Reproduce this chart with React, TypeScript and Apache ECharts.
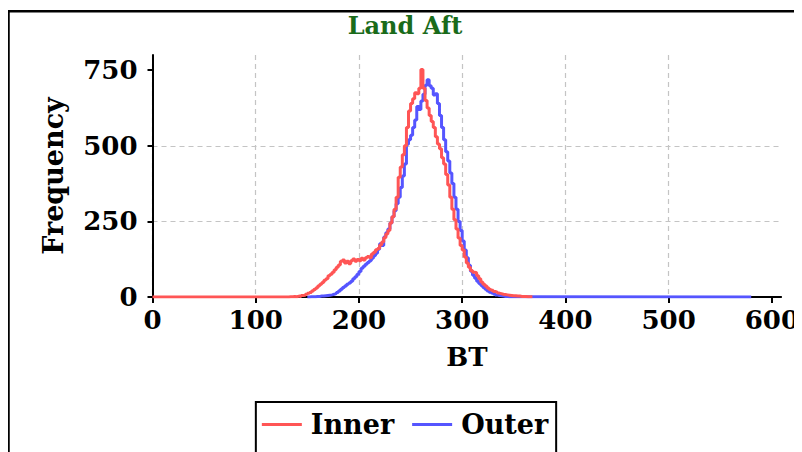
import React, { useEffect, useRef } from "react";
import * as echarts from "echarts";

const binWidth = 2;
const innerStart = 130;
const innerCounts = [
  0, 1, 1, 2, 1, 3, 2, 5, 6, 9,
  12, 15, 20, 25, 30, 36, 42, 48, 55, 60,
  70, 75, 82, 90, 98, 106, 118, 122, 112, 118,
  110, 120, 126, 118, 124, 120, 128, 122, 130, 134,
  130, 142, 148, 156, 160, 172, 182, 196, 208, 220,
  245, 265, 290, 330, 396, 430, 470, 500, 560, 615,
  640, 655, 675, 672, 690, 752, 690, 650, 625, 600,
  580, 560, 530, 506, 490, 460, 440, 405, 370, 330,
  290, 255, 225, 195, 170, 155, 132, 112, 98, 88,
  82, 80, 70, 60, 50, 42, 36, 30, 25, 22,
  18, 16, 13, 11, 9, 8, 7, 6, 5, 4,
  4, 3, 3, 2, 2, 2, 1, 1, 1, 0,
];
const outerStart = 150;
const outerCounts = [
  0, 1, 1, 1, 2, 2, 3, 3, 4, 5,
  6, 7, 9, 11, 15, 20, 26, 31, 36, 42,
  46, 52, 60, 67, 75, 84, 95, 102, 108, 114,
  120, 128, 136, 145, 158, 176, 170, 198, 212, 225,
  245, 265, 285, 308, 330, 362, 400, 440, 505, 520,
  535, 560, 585, 630, 620, 648, 670, 700, 718, 698,
  690, 668, 672, 640, 600, 560, 520, 480, 450, 410,
  375, 330, 290, 250, 220, 185, 155, 130, 105, 85,
  72, 62, 52, 45, 38, 31, 26, 20, 16, 13,
  10, 7, 5, 4, 3, 2, 2, 1, 1, 0,
];
// BT range where each series' zero tail is drawn
const innerFirstBT = 0;
const outerLastBT = 580;

const xTicks = [0, 100, 200, 300, 400, 500, 600];
const yTicks = [0, 250, 500, 750];
const xMax = 609;
const yMax = 800;

const seriesNames = ["Inner", "Outer"];
const titleText = "Land Aft";
const xName = "BT";
const yName = "Frequency";

const FONT = "DejaVu Serif";

function toPairs(start: number, counts: number[]): number[][] {
  return counts.map((c, i) => [start + i * binWidth, c]);
}

export default function App() {
  const ref = useRef<HTMLDivElement>(null);
  useEffect(() => {
    if (!ref.current) return;
    const chart = echarts.init(ref.current, undefined, { renderer: "svg" });
    const innerData = [[innerFirstBT, 0], ...toPairs(innerStart, innerCounts)];
    const outerData = [...toPairs(outerStart, outerCounts), [outerLastBT, 0]];
    const labelStyle = {
      fontFamily: FONT,
      fontWeight: "bold" as const,
      fontSize: 26,
      color: "#000",
    };
    chart.setOption({
      animation: false,
      backgroundColor: "#fff",
      title: {
        text: titleText,
        left: "center",
        top: 5,
        padding: 0,
        textStyle: {
          fontFamily: FONT,
          fontWeight: "bold",
          fontSize: 24,
          color: "#1a6b1a",
        },
      },
      graphic: [
        {
          type: "polyline",
          shape: { points: [[0.5, 470], [0.5, 3.3], [820, 3.3]] },
          style: { stroke: "#000", lineWidth: 2.5, fill: "none" },
          silent: true,
        },
      ],
      grid: { left: 144.5, right: 16, top: 47, bottom: 155 },
      legend: {
        data: seriesNames,
        left: "center",
        top: 394,
        icon: "rect",
        itemWidth: 40,
        itemHeight: 3,
        itemGap: 18,
        padding: [9, 8, 40, 6],
        borderColor: "#000",
        borderWidth: 2,
        textStyle: {
          fontFamily: FONT,
          fontWeight: "bold",
          fontSize: 27,
          color: "#000",
          padding: [0, 0, 0, 4],
        },
      },
      xAxis: {
        type: "value",
        min: 0,
        max: xMax,
        interval: 100,
        name: xName,
        nameLocation: "middle",
        nameGap: 47,
        nameTextStyle: { ...labelStyle },
        axisLine: { show: true, onZero: false, lineStyle: { color: "#000", width: 2 } },
        axisTick: {
          show: true,
          length: 6,
          inside: false,
          customValues: xTicks,
          lineStyle: { color: "#000", width: 2 },
        },
        axisLabel: { ...labelStyle, margin: 10, customValues: xTicks },
        splitLine: {
          show: true,
          showMaxLine: false,
          lineStyle: { color: "#c4c4c4", type: [5, 4], width: 1.2 },
        },
      },
      yAxis: {
        type: "value",
        min: 0,
        max: yMax,
        interval: 250,
        name: yName,
        nameLocation: "middle",
        nameRotate: 90,
        nameGap: 86,
        nameTextStyle: { ...labelStyle, fontSize: 27 },
        axisLine: { show: true, onZero: false, lineStyle: { color: "#000", width: 2 } },
        axisTick: {
          show: true,
          length: 5,
          inside: false,
          customValues: yTicks,
          lineStyle: { color: "#000", width: 2 },
        },
        axisLabel: { ...labelStyle, margin: 15, customValues: yTicks },
        splitLine: {
          show: true,
          showMaxLine: false,
          showMinLine: false,
          lineStyle: { color: "#c4c4c4", type: [5, 4], width: 1.2 },
        },
      },
      series: [
        {
          name: seriesNames[0],
          type: "line",
          step: "end",
          data: innerData,
          symbol: "none",
          showSymbol: false,
          z: 4,
          color: "#ff5555",
          lineStyle: { color: "#ff5555", width: 3 },
        },
        {
          name: seriesNames[1],
          type: "line",
          step: "end",
          data: outerData,
          symbol: "none",
          showSymbol: false,
          z: 3,
          color: "#5555ff",
          lineStyle: { color: "#5555ff", width: 3 },
        },
      ],
    });
    return () => chart.dispose();
  }, []);
  return <div ref={ref} style={{ width: 794, height: 444 }} />;
}
